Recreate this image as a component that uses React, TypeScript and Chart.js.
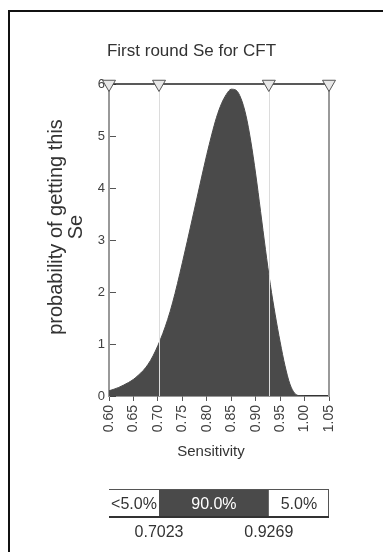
import React, { useEffect, useRef } from "react";
import { Chart, registerables } from "chart.js";

Chart.register(...registerables);

// ---------- data ----------
const chartTitle = "First round Se for CFT";
const xAxisTitle = "Sensitivity";
const yAxisTitleLines = ["probability of getting this", "Se"];

const sensitivity = [
  0.6, 0.61, 0.62, 0.63, 0.64, 0.65, 0.66, 0.67, 0.68, 0.69,
  0.7, 0.71, 0.72, 0.73, 0.74, 0.75, 0.76, 0.77, 0.78, 0.79,
  0.8, 0.81, 0.82, 0.83, 0.84, 0.85, 0.86, 0.87, 0.88, 0.89,
  0.9, 0.91, 0.92, 0.93, 0.94, 0.95, 0.96, 0.97, 0.98, 0.99, 1.0,
];
const density = [
  0.1, 0.13, 0.165, 0.21, 0.26, 0.32, 0.4, 0.49, 0.61, 0.77,
  0.97, 1.2, 1.47, 1.79, 2.16, 2.56, 2.97, 3.39, 3.81, 4.23,
  4.64, 5.02, 5.36, 5.62, 5.8, 5.9, 5.88, 5.72, 5.4, 4.9,
  4.27, 3.55, 2.82, 2.14, 1.56, 1.04, 0.58, 0.23, 0.05, 0.005, 0.0,
];

const xMin = 0.6;
const xMax = 1.05;
const xStep = 0.05;
const yMin = 0;
const yMax = 6;
const yStep = 1;

const delimiterValues = [0.7023, 0.9269];
const bandLabels = ["<5.0%", "90.0%", "5.0%"];
const markerSe = [0.6, 0.7023, 0.9269, 1.05];

// ---------- styling ----------
const FONT = "'Liberation Sans', Arial, sans-serif";
const DARK = "#4a4a4a";
const TEXT = "#333333";

const decorPlugin = {
  id: "decor",
  afterDatasetDraw(chart: any, args: any) {
    if (args.index !== 0) return;
    const { ctx, chartArea, scales } = chart;
    const xs = scales.x;
    ctx.save();
    ctx.strokeStyle = "#dcdcdc";
    ctx.lineWidth = 1;
    for (const v of delimiterValues) {
      const px = Math.round(xs.getPixelForValue(v)) + 0.5;
      ctx.beginPath();
      ctx.moveTo(px, chartArea.top);
      ctx.lineTo(px, chartArea.bottom);
      ctx.stroke();
    }
    ctx.restore();
  },
  afterDraw(chart: any) {
    const { ctx, chartArea, scales } = chart;
    const xs = scales.x;
    ctx.save();

    // y axis title (two rotated lines)
    ctx.fillStyle = TEXT;
    ctx.font = `20px ${FONT}`;
    ctx.textAlign = "center";
    ctx.textBaseline = "alphabetic";
    const cy = (chartArea.top + chartArea.bottom) / 2 - 13;
    yAxisTitleLines.forEach((line, i) => {
      ctx.save();
      ctx.translate(62 + i * 20, cy);
      ctx.rotate(-Math.PI / 2);
      ctx.fillText(line, 0, 0);
      ctx.restore();
    });

    // x axis title
    ctx.font = `15px ${FONT}`;
    ctx.fillText(
      xAxisTitle,
      (chartArea.left + chartArea.right) / 2 - 8,
      chartArea.bottom + 60
    );

    // delimiter band
    const x0 = xs.getPixelForValue(xMin);
    const x1 = xs.getPixelForValue(delimiterValues[0]);
    const x2 = xs.getPixelForValue(delimiterValues[1]);
    const x3 = xs.getPixelForValue(xMax);
    const top = chartArea.bottom + 93;
    const h = 28;
    ctx.fillStyle = "#ffffff";
    ctx.fillRect(x0, top, x3 - x0, h);
    ctx.fillStyle = DARK;
    ctx.fillRect(x1, top, x2 - x1, h);

    ctx.strokeStyle = "#555";
    ctx.lineWidth = 1;
    ctx.beginPath();
    ctx.moveTo(x0, top + 0.5);
    ctx.lineTo(x3, top + 0.5);
    ctx.stroke();
    ctx.beginPath();
    ctx.moveTo(x3 - 0.5, top);
    ctx.lineTo(x3 - 0.5, top + h);
    ctx.stroke();
    ctx.strokeStyle = "#333";
    ctx.lineWidth = 2;
    ctx.beginPath();
    ctx.moveTo(x0, top + h);
    ctx.lineTo(x3, top + h);
    ctx.stroke();

    ctx.font = `16px ${FONT}`;
    ctx.textAlign = "center";
    const segs = [
      [x0, x1],
      [x1, x2],
      [x2, x3],
    ];
    bandLabels.forEach((lab, i) => {
      ctx.fillStyle = i === 1 ? "#ffffff" : TEXT;
      ctx.fillText(lab, (segs[i][0] + segs[i][1]) / 2, top + 20);
    });
    ctx.fillStyle = TEXT;
    delimiterValues.forEach((v) => {
      ctx.fillText(v.toFixed(4), xs.getPixelForValue(v), top + h + 20);
    });

    ctx.restore();
  },
};

export default function App() {
  const ref = useRef<HTMLCanvasElement>(null);

  useEffect(() => {
    const canvas = ref.current;
    if (!canvas) return;
    const chart = new Chart(canvas, {
      type: "line",
      data: {
        datasets: [
          {
            label: "density",
            data: sensitivity.map((s, i) => ({ x: s, y: density[i] })),
            fill: "origin",
            backgroundColor: DARK,
            borderColor: DARK,
            borderWidth: 1,
            pointRadius: 0,
            cubicInterpolationMode: "monotone",
            order: 2,
          } as any,
          {
            label: "markers",
            data: markerSe.map((s) => ({ x: s, y: yMax })),
            fill: false,
            borderColor: "#222",
            borderWidth: 1.5,
            pointStyle: "triangle",
            pointRotation: 180,
            pointRadius: 7.5,
            pointBackgroundColor: "#e8e8e8",
            pointBorderColor: "#555",
            pointBorderWidth: 1,
            clip: false,
            order: 1,
          } as any,
        ],
      },
      options: {
        responsive: false,
        animation: false,
        devicePixelRatio: 1,
        layout: {
          autoPadding: false,
          padding: { left: 8, right: 8, top: 10, bottom: 0 },
        },
        plugins: {
          legend: { display: false },
          tooltip: { enabled: false },
          title: {
            display: true,
            text: chartTitle,
            color: TEXT,
            font: { family: FONT, size: 17, weight: "normal" },
            padding: { top: 31.3, bottom: 22.3 },
          },
        },
        scales: {
          x: {
            type: "linear",
            min: xMin,
            max: xMax,
            ticks: {
              stepSize: xStep,
              minRotation: 90,
              maxRotation: 90,
              autoSkip: false,
              padding: 4,
              color: "#404040",
              font: { family: FONT, size: 14 },
              callback: (v: any) => Number(v).toFixed(2),
            },
            grid: {
              display: true,
              drawOnChartArea: false,
              drawTicks: true,
              tickLength: 5,
              color: "#555",
              lineWidth: 1,
            },
            border: { display: true, color: "#333", width: 1.5 },
            afterFit: (s: any) => {
              s.height = 156;
            },
          },
          y: {
            type: "linear",
            min: yMin,
            max: yMax,
            ticks: {
              stepSize: yStep,
              padding: 11,
              color: "#404040",
              font: { family: FONT, size: 13 },
            },
            grid: {
              display: true,
              drawOnChartArea: false,
              drawTicks: true,
              tickLength: -7,
              color: "#555",
              lineWidth: 1,
            },
            border: { display: true, color: "#999", width: 2 },
            afterFit: (s: any) => {
              s.width = 101;
            },
          },
          yR: {
            type: "linear",
            position: "right",
            display: true,
            ticks: { display: false },
            grid: { display: false },
            border: { display: true, color: "#999", width: 2 },
            afterFit: (s: any) => {
              s.width = 46;
            },
          },
        },
      } as any,
      plugins: [decorPlugin],
    });
    return () => chart.destroy();
  }, []);

  return (
    <div
      style={{
        position: "absolute",
        left: 0,
        top: 0,
        width: 383,
        height: 552,
        background: "#fff",
      }}
    >
      <canvas
        ref={ref}
        width={383}
        height={552}
        style={{ position: "absolute", left: 0, top: 0, width: 383, height: 552 }}
      />
      <div
        style={{
          position: "absolute",
          left: 8,
          top: 10,
          width: 375,
          height: 542,
          boxSizing: "border-box",
          borderLeft: "2px solid #111",
          borderTop: "2px solid #111",
          pointerEvents: "none",
        }}
      />
    </div>
  );
}
